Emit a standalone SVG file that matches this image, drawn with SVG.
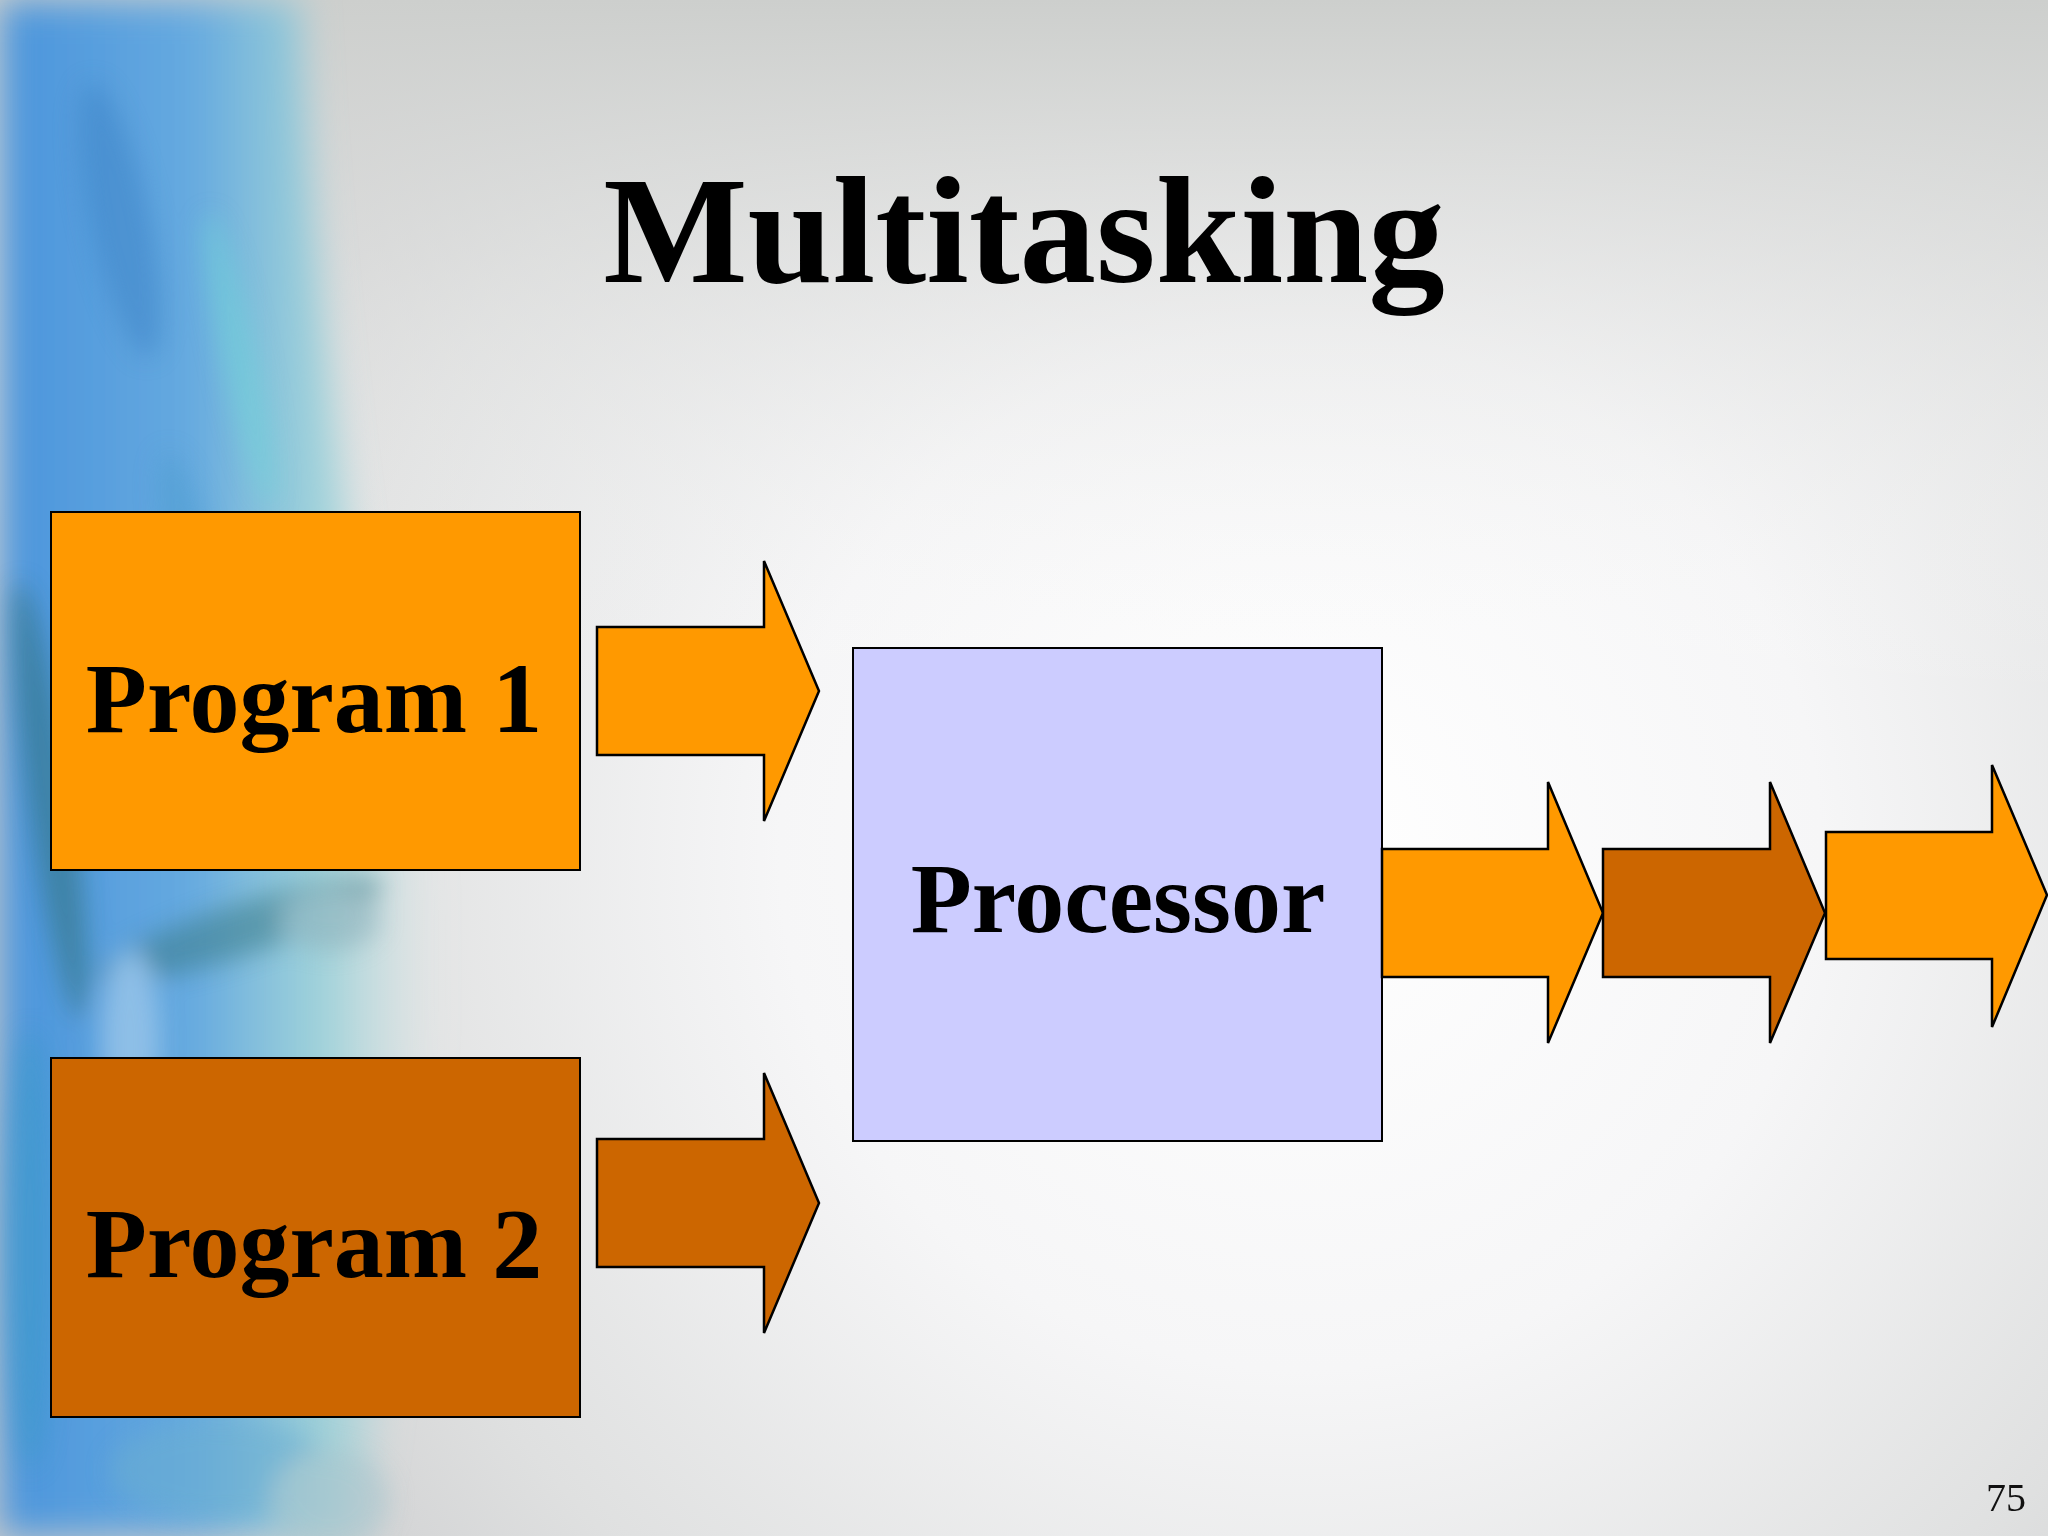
<svg xmlns="http://www.w3.org/2000/svg" width="2048" height="1536" viewBox="0 0 2048 1536">
<defs>
<radialGradient id="bg" gradientUnits="userSpaceOnUse" cx="1300" cy="850" r="1300">
<stop offset="0" stop-color="#ffffff"/>
<stop offset="0.4" stop-color="#f6f6f7"/>
<stop offset="0.75" stop-color="#dfe0e0"/>
<stop offset="1" stop-color="#c9cacc"/>
</radialGradient>
<linearGradient id="topfade" x1="0" y1="0" x2="0" y2="1">
<stop offset="0" stop-color="#cdcfcd" stop-opacity="1"/>
<stop offset="0.35" stop-color="#dcdddc" stop-opacity="0.6"/>
<stop offset="1" stop-color="#ffffff" stop-opacity="0"/>
</linearGradient>
<linearGradient id="blue" x1="0" y1="0" x2="1" y2="0">
<stop offset="0" stop-color="#4a94dc"/>
<stop offset="0.45" stop-color="#66aae0"/>
<stop offset="0.75" stop-color="#8dcfd8" stop-opacity="0.75"/>
<stop offset="1" stop-color="#c0dfe2" stop-opacity="0"/>
</linearGradient>
<filter id="blur" x="-50%" y="-50%" width="200%" height="200%"><feGaussianBlur stdDeviation="18"/></filter>
<filter id="blur2" x="-50%" y="-50%" width="200%" height="200%"><feGaussianBlur stdDeviation="12"/></filter>
<style>
.box{stroke:#000;stroke-width:2}
.arr{stroke:#000;stroke-width:2.5;stroke-linejoin:miter}
.light{fill:#ff9900}
.dark{fill:#cc6600}
.proc{fill:#ccccff}
.lbl{font-family:"Liberation Serif","Times New Roman",serif;font-weight:bold;font-size:100px;fill:#000;text-anchor:middle}
</style>
</defs>

<g id="background">
<rect width="2048" height="1536" fill="url(#bg)"/>
<rect width="2048" height="700" fill="url(#topfade)"/>
<path d="M0,0 L300,0 C310,200 330,450 370,650 C430,800 450,950 420,1100 C400,1250 380,1400 360,1536 L0,1536 Z" fill="url(#blue)" filter="url(#blur)"/>
<g filter="url(#blur2)" opacity="0.55">
<ellipse cx="120" cy="220" rx="30" ry="140" fill="#3f86c8" transform="rotate(-12 120 220)"/>
<ellipse cx="240" cy="360" rx="18" ry="150" fill="#70d2d8" transform="rotate(-12 240 360)"/>
<ellipse cx="190" cy="560" rx="22" ry="110" fill="#4f9ed0" transform="rotate(-12 190 560)"/>
<ellipse cx="50" cy="800" rx="22" ry="220" fill="#2e6f7a" transform="rotate(-8 50 800)"/>
<ellipse cx="240" cy="930" rx="150" ry="26" fill="#3a7c88" transform="rotate(-18 240 930)"/>
<ellipse cx="330" cy="920" rx="50" ry="30" fill="#8aaeb8"/>
<ellipse cx="130" cy="1040" rx="30" ry="90" fill="#b6d6ee"/>
<ellipse cx="30" cy="1250" rx="24" ry="220" fill="#3b9ac8"/>
<ellipse cx="220" cy="1470" rx="110" ry="50" fill="#6aaed0"/>
<ellipse cx="330" cy="1500" rx="60" ry="50" fill="#a9c4cc"/>
</g>
</g>

<text x="1024" y="282" font-family="'Liberation Serif','Times New Roman',serif" font-weight="bold" font-size="153" text-anchor="middle" fill="#000">Multitasking</text>

<g id="program1">
<rect class="box light" x="51" y="512" width="529" height="358"/>
<text class="lbl" x="314" y="732">Program 1</text>
</g>

<g id="program2">
<rect class="box dark" x="51" y="1058" width="529" height="359"/>
<text class="lbl" x="314" y="1277">Program 2</text>
</g>

<g id="processor">
<rect class="box proc" x="853" y="648" width="529" height="493"/>
<text class="lbl" x="1118" y="932">Processor</text>
</g>

<g id="connectors">
<polygon class="arr light" points="597,627 764,627 764,561 819,691 764,821 764,755 597,755"/>
<polygon class="arr dark" points="597,1139 764,1139 764,1073 819,1203 764,1333 764,1267 597,1267"/>
<polygon class="arr light" points="1382,849 1548,849 1548,782 1603,913 1548,1043 1548,977 1382,977"/>
<polygon class="arr dark" points="1603,849 1770,849 1770,782 1825,913 1770,1043 1770,977 1603,977"/>
<polygon class="arr light" points="1826,832 1992,832 1992,765 2047,895 1992,1027 1992,959 1826,959"/>
</g>

<text x="2026" y="1511" font-family="'Liberation Serif','Times New Roman',serif" font-size="40" text-anchor="end" fill="#111">75</text>
</svg>
